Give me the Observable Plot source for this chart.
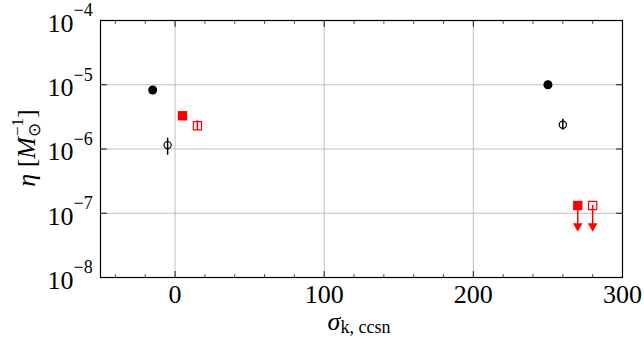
<!DOCTYPE html>
<html><head><meta charset="utf-8">
<script src="https://cdn.jsdelivr.net/npm/d3@7"></script>
<script src="https://cdn.jsdelivr.net/npm/@observablehq/plot@0.6"></script>
<style>
body{margin:0;background:#fff;}
#chart svg{display:block;}
#chart svg text{font-family:'Liberation Serif','Times New Roman',Times,serif;}
</style></head><body><div id="chart"></div>
<script>
// ---- axis ticks ----
const xTicks = [0, 100, 200, 300];
const xMinorTicks = [-40, -20, 20, 40, 60, 80, 120, 140, 160, 180, 220, 240, 260, 280];
const xGrid = [0, 100, 200];
const yTicks = [1e-4, 1e-5, 1e-6, 1e-7, 1e-8];
const yGrid = [1e-5, 1e-6, 1e-7];

// ---- series: black filled circles ----
const blackFilledX = [-15, 250];
const blackFilledY = [8.3e-6, 1.0e-5];
const blackFilledLo = [8.3e-6, 8.8e-6];
const blackFilledHi = [8.3e-6, 1.14e-5];

// ---- series: black open circles ----
const blackOpenX = [-5, 260];
const blackOpenY = [1.15e-6, 2.38e-6];
const blackOpenLo = [8.0e-7, 1.95e-6];
const blackOpenHi = [1.47e-6, 2.9e-6];

// ---- series: red filled squares ----
const redFilledX = [5, 270];
const redFilledY = [3.29e-6, 1.32e-7];

// ---- series: red open squares ----
const redOpenX = [15, 280];
const redOpenY = [2.3e-6, 1.32e-7];
const redOpenLo = [1.93e-6, 1.32e-7];
const redOpenHi = [2.75e-6, 1.32e-7];

// ---- upper limits (arrows) ----
const limitX = [270, 280];
const limitY = [1.32e-7, 1.32e-7];
const limitEnd = [6.3e-8, 6.3e-8];

const idx = a => a.map((_, i) => i);
const serif = "'Liberation Serif', 'Times New Roman', Times, serif";
const lineShape = {draw(ctx, l) { ctx.moveTo(0, 0); ctx.lineTo(0, -l); }};

const plot = Plot.plot({
  width: 644, height: 339,
  marginLeft: 100, marginRight: 22, marginTop: 20, marginBottom: 62,
  x: {domain: [-50, 300], axis: null},
  y: {type: "log", domain: [1e-8, 1e-4], axis: null},
  style: {background: "white", fontFamily: serif},
  marks: [
    Plot.gridX(xGrid, {stroke: "#b0b0b0", strokeOpacity: 1, strokeWidth: 0.8}),
    Plot.gridY(yGrid, {stroke: "#b0b0b0", strokeOpacity: 1, strokeWidth: 0.8}),
    // inward ticks bottom / top
    Plot.vector(xTicks, {x: d => d, y: 1e-8, length: 6, rotate: 0, anchor: "start", shape: lineShape, stroke: "black", strokeWidth: 0.9}),
    Plot.vector(xMinorTicks, {x: d => d, y: 1e-8, length: 3, rotate: 0, anchor: "start", shape: lineShape, stroke: "black", strokeWidth: 0.7}),
    Plot.vector(xTicks, {x: d => d, y: 1e-4, length: 6, rotate: 180, anchor: "start", shape: lineShape, stroke: "black", strokeWidth: 0.9}),
    Plot.vector(xMinorTicks, {x: d => d, y: 1e-4, length: 3, rotate: 180, anchor: "start", shape: lineShape, stroke: "black", strokeWidth: 0.7}),
    // inward ticks left / right
    Plot.vector(yTicks, {x: -50, y: d => d, length: 6, rotate: 90, anchor: "start", shape: lineShape, stroke: "black", strokeWidth: 0.9}),
    Plot.vector(yTicks, {x: 300, y: d => d, length: 6, rotate: -90, anchor: "start", shape: lineShape, stroke: "black", strokeWidth: 0.9}),
    Plot.frame({stroke: "black", strokeWidth: 1.2}),
    // tick labels
    Plot.text(xTicks, {x: d => d, frameAnchor: "bottom", text: d => String(d), dy: 7, lineAnchor: "top", fontSize: 26, fontFamily: serif, fill: "black"}),
    Plot.text(yTicks, {y: d => d, frameAnchor: "left", text: () => "10", textAnchor: "end", dx: -27, dy: 3, fontSize: 26, fontFamily: serif, fill: "black"}),
    Plot.text(yTicks, {y: d => d, frameAnchor: "left", text: d => "\u2212" + Math.round(-Math.log10(d)), textAnchor: "start", dx: -27, dy: -10, fontSize: 18, fontFamily: serif, fill: "black"}),
    // error bars
    Plot.ruleX(idx(blackFilledX), {x: i => blackFilledX[i], y1: i => blackFilledLo[i], y2: i => blackFilledHi[i], stroke: "black", strokeWidth: 1.5}),
    Plot.ruleX(idx(blackOpenX), {x: i => blackOpenX[i], y1: i => blackOpenLo[i], y2: i => blackOpenHi[i], stroke: "black", strokeWidth: 1.5}),
    Plot.ruleX(idx(redOpenX), {x: i => redOpenX[i], y1: i => redOpenLo[i], y2: i => redOpenHi[i], stroke: "red", strokeWidth: 1.5}),
    // upper-limit arrows
    Plot.ruleX(idx(limitX), {x: i => limitX[i], y1: i => limitY[i], y2: i => limitEnd[i], stroke: "red", strokeWidth: 1.5}),
    Plot.dot(idx(limitX), {x: i => limitX[i], y: i => limitEnd[i], symbol: "triangle", rotate: 180, r: 3.6, fill: "red", stroke: "none"}),
    // markers
    Plot.dot(idx(blackFilledX), {x: i => blackFilledX[i], y: i => blackFilledY[i], r: 4.5, fill: "black", stroke: "none"}),
    Plot.dot(idx(blackOpenX), {x: i => blackOpenX[i], y: i => blackOpenY[i], r: 3.6, fill: "none", stroke: "black", strokeWidth: 1.2}),
    Plot.dot(idx(redFilledX), {x: i => redFilledX[i], y: i => redFilledY[i], symbol: "square", r: 5.3, fill: "red", stroke: "none"}),
    Plot.dot(idx(redOpenX), {x: i => redOpenX[i], y: i => redOpenY[i], symbol: "square", r: 4.6, fill: "none", stroke: "red", strokeWidth: 1.2})
  ]
});

const svg = d3.select(plot);
// y-axis label
const yl = svg.append("text")
  .attr("transform", "translate(35,148) rotate(-90)")
  .attr("text-anchor", "middle")
  .attr("font-family", serif).attr("font-size", 26).attr("fill", "black");
yl.append("tspan").attr("font-style", "italic").text("\u03b7");
yl.append("tspan").text(" [");
yl.append("tspan").attr("font-style", "italic").text("M");
yl.append("tspan").attr("font-size", 17).attr("dy", 5).text("\u2299");
yl.append("tspan").attr("font-size", 17).attr("dx", -13).attr("dy", -17).text("\u22121");
yl.append("tspan").attr("dy", 12).text("]");

// x-axis label
const xl = svg.append("text")
  .attr("transform", "translate(359,330)")
  .attr("text-anchor", "middle")
  .attr("font-family", serif).attr("font-size", 26).attr("fill", "black");
xl.append("tspan").attr("font-style", "italic").text("\u03c3");
xl.append("tspan").attr("font-size", 18).attr("dy", 3).text("k, ccsn");

document.getElementById("chart").appendChild(plot);
</script>
</body></html>
